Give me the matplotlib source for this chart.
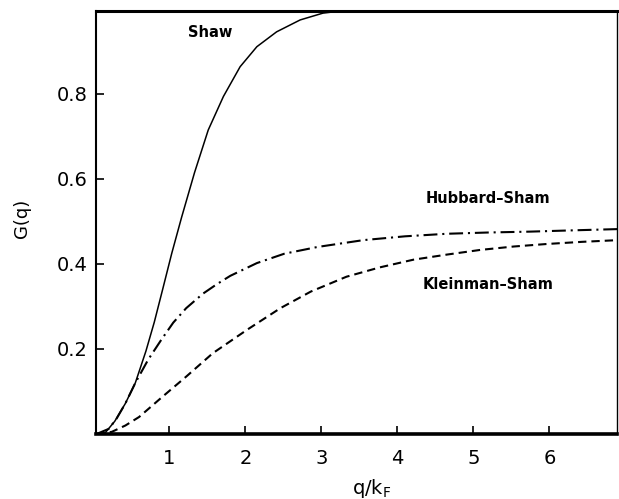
import matplotlib
matplotlib.use("Agg")
import matplotlib.pyplot as plt

# values
q_shaw = [0.04, 0.15, 0.28, 0.42, 0.55, 0.69, 0.80, 0.91, 1.03, 1.16, 1.33, 1.51,
          1.71, 1.93, 2.15, 2.41, 2.72, 3.02, 3.35, 3.7, 4.5, 5.5, 6.9]
g_shaw = [0.0, 0.002, 0.03, 0.072, 0.12, 0.195, 0.263, 0.34, 0.425, 0.51, 0.615, 0.715,
          0.794, 0.864, 0.911, 0.946, 0.974, 0.99, 0.997, 1.0, 1.0, 1.0, 1.0]

q_hub = [0.04, 0.20, 0.30, 0.42, 0.55, 0.72, 0.89, 1.05, 1.22, 1.44, 1.62, 1.80,
         2.15, 2.51, 2.95, 3.55, 4.1, 4.65, 5.2, 5.74, 6.3, 6.9]
g_hub = [0.0, 0.012, 0.035, 0.072, 0.12, 0.175, 0.221, 0.262, 0.296, 0.33, 0.352, 0.372,
         0.402, 0.424, 0.44, 0.456, 0.465, 0.471, 0.474, 0.476, 0.479, 0.482]

q_kle = [0.04, 0.24, 0.42, 0.60, 0.91, 1.22, 1.57, 2.02, 2.46, 2.86, 3.33, 3.77,
         4.21, 4.65, 5.09, 5.53, 5.97, 6.43, 6.9]
g_kle = [0.0, 0.005, 0.02, 0.04, 0.088, 0.135, 0.19, 0.245, 0.296, 0.335, 0.37, 0.392,
         0.41, 0.422, 0.433, 0.441, 0.447, 0.452, 0.456]

x_ticks = [1, 2, 3, 4, 5, 6]
y_ticks = [0.2, 0.4, 0.6, 0.8]

plt.rcParams['lines.scale_dashes'] = False

fig = plt.figure(figsize=(6.19, 4.99), dpi=100)
ax = fig.add_axes([96 / 619, 65 / 499, 521 / 619, 423 / 499])

ax.plot(q_shaw, g_shaw, color='black', linewidth=1.1)
ax.plot(q_hub, g_hub, color='black', linewidth=1.5, dashes=(10, 3.5, 1.5, 3.5))
ax.plot(q_kle, g_kle, color='black', linewidth=1.5, dashes=(6, 3.6))

ax.set_xlim(0.033, 6.89)
ax.set_ylim(0, 0.995)

ax.set_xticks(x_ticks)
ax.set_xticklabels([str(t) for t in x_ticks])
ax.set_yticks(y_ticks)
ax.set_yticklabels(["%.1f" % t for t in y_ticks])
ax.tick_params(axis='both', direction='in', length=6, width=1.2, labelsize=14)
ax.tick_params(axis='x', pad=11)
ax.tick_params(axis='y', pad=6)

ax.spines['left'].set_linewidth(1.5)
ax.spines['bottom'].set_linewidth(2.6)
ax.spines['top'].set_linewidth(2.2)
ax.spines['right'].set_linewidth(1.0)

ax.text(1.53, 0.945, "Shaw", fontsize=10.5, fontweight='bold', ha='center', va='center')
ax.text(5.19, 0.553, "Hubbard\u2013Sham", fontsize=10.5, fontweight='bold', ha='center', va='center')
ax.text(5.19, 0.351, "Kleinman\u2013Sham", fontsize=10.5, fontweight='bold', ha='center', va='center')

fig.text(22 / 619, 1 - 218 / 499, "G(q)", fontsize=13, rotation=90, ha='center', va='center')
fig.text(372 / 619, 1 - 489 / 499, "q/k$_\\mathregular{F}$", fontsize=14, ha='center', va='center')

fig.savefig("out.png", dpi=100)
